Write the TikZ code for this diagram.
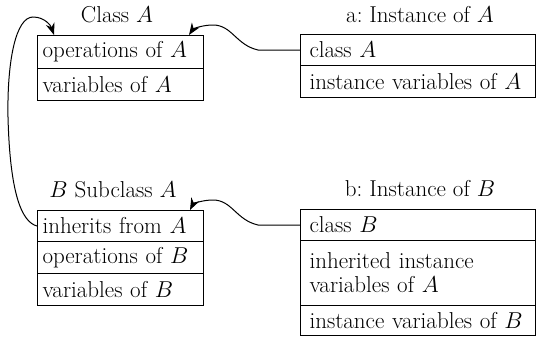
\RequirePackage{fix-cm}
\documentclass[tikz,border=0pt]{standalone}
\usetikzlibrary{arrows.meta}
\newcommand{\figfs}{\fontsize{23}{24}\selectfont}
\begin{document}
\begin{tikzpicture}[x=1pt,y=-1pt,
  cell/.style={draw, line width=1pt, anchor=north west, align=left, inner ysep=0pt, font=\figfs},
  clscell/.style={cell, inner xsep=5pt, text width=156pt},
  instcell/.style={cell, inner xsep=9pt, text width=217pt},
  title/.style={font=\figfs, inner sep=0pt},
  link/.style={line width=1pt, -{Stealth[length=12pt,width=9pt]}}]
\useasboundingbox (0,0) rectangle (536,338);
% Class A
\node[title] (tA) at (117,15) {Class $A$};
\node[clscell, minimum height=33pt] (cA1) at (37,35) {operations of $A$};
\node[clscell, minimum height=32pt] (cA2) at (37,68) {variables of $A$};
% Instance a
\node[title] (ta) at (420,15) {a:\ Instance of $A$};
\node[instcell, minimum height=31pt] (iA1) at (300,34) {class $A$};
\node[instcell, minimum height=32pt] (iA2) at (300,65) {instance variables of $A$};
% Class B
\node[title] (tB) at (113,190) {$B$ Subclass $A$};
\node[clscell, minimum height=31pt] (cB1) at (37,210) {inherits from $A$};
\node[clscell, minimum height=32pt] (cB2) at (37,241) {operations of $B$};
\node[clscell, minimum height=32pt] (cB3) at (37,273) {variables of $B$};
% Instance b
\node[title] (tb) at (420,189) {b:\ Instance of $B$};
\node[instcell, minimum height=31pt] (iB1) at (300,209) {class $B$};
\node[instcell, minimum height=65pt] (iB2) at (300,240) {inherited instance\\variables of $A$};
\node[instcell, minimum height=30pt] (iB3) at (300,305) {instance variables of $B$};
% connectors
\coordinate (pA) at ([xshift=-15pt]cA1.north east);
\coordinate (pB) at ([xshift=-14pt]cB1.north east);
\coordinate (pL) at ([xshift=17pt]cA1.north west);
\draw[link] (iA1.west) -- ++(-42,0) .. controls (236,45) and (232,25) .. (213,25)
  .. controls (202,25) and (193,29) .. (pA);
\draw[link] (iB1.west) -- ++(-42,0) .. controls (236,220) and (232,200) .. (213,200)
  .. controls (202,200) and (193,204) .. (pB);
\draw[link] (cB1.west) .. controls (22,222) and (10,195) .. (8,117)
  .. controls (7,60) and (16,17) .. (33,17) .. controls (45,17) and (51,26) .. (pL);
\end{tikzpicture}
\end{document}
